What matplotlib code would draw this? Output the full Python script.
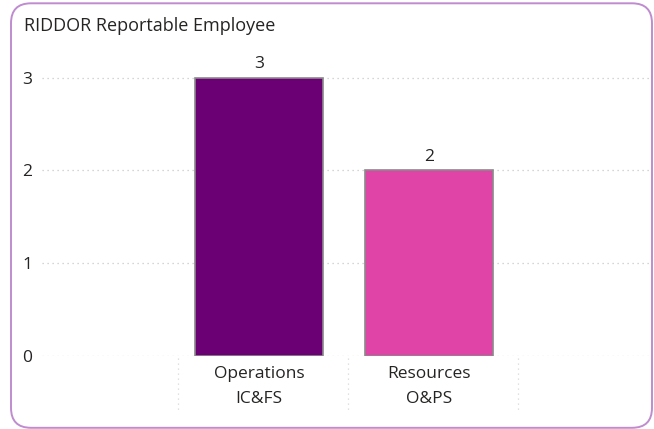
import matplotlib
matplotlib.use("Agg")
import matplotlib.pyplot as plt
from matplotlib.patches import FancyBboxPatch
from matplotlib.transforms import blended_transform_factory

categories = ["Operations\nIC&FS", "Resources\nO&PS"]
values = [3, 2]
colors = ["#6a0073", "#e044a7"]
yticks = [0, 1, 2, 3]
title = "RIDDOR Reportable Employee"

plt.rcParams['font.family'] = ['Open Sans', 'DejaVu Sans']
TXT = "#252423"

W, H = 654, 429
fig = plt.figure(figsize=(W/100, H/100), dpi=100)

# rounded border (inches)
border = FancyBboxPatch((0.11, 0.012), 6.41, 4.245,
                        boxstyle="round,pad=0,rounding_size=0.2",
                        transform=fig.dpi_scale_trans, fill=False,
                        edgecolor="#bf8ccf", linewidth=1.4)
fig.patches.append(border)

# axes placement in pixels
ax_left, ax_right = 42, 650
y0_px, ytop_px = 356, 54
unit_px = (356 - 77.5) / 3.0
ytop = (y0_px - ytop_px) / unit_px
ax = fig.add_axes([ax_left/W, (H-y0_px)/H, (ax_right-ax_left)/W, (y0_px-ytop_px)/H])

xs = list(range(len(categories)))
band_px = 170.0
c0 = 259.0
ax.set_xlim((ax_left-c0)/band_px, (ax_right-c0)/band_px)
ax.set_ylim(0, ytop)

ax.bar(xs, values, width=0.753, color=colors, edgecolor="#8a8a8a", linewidth=1.2, zorder=3)
for x, v in zip(xs, values):
    ax.text(x, v + 0.06, str(v), ha="center", va="bottom", fontsize=12.5, color=TXT)

ax.set_yticks(yticks)
ax.set_yticklabels([str(t) for t in yticks], fontsize=12.5, color=TXT)
ax.yaxis.grid(True, linestyle=(0, (1, 3)), color="#c8c8c8", linewidth=0.9, zorder=0)
ax.tick_params(axis="y", length=0, pad=7)
ax.set_xticks(xs)
ax.set_xticklabels(categories, fontsize=12.5, color=TXT, linespacing=1.75)
ax.tick_params(axis="x", length=0, pad=7)
for s in ax.spines.values():
    s.set_visible(False)

# vertical dotted separators below axis
tr = blended_transform_factory(ax.transData, ax.transAxes)
h_ax = y0_px - ytop_px
for b in [-0.5, 0.5, 1.5]:
    xb = b + 4/band_px
    ax.plot([xb, xb], [-2/h_ax, -57/h_ax], transform=tr, clip_on=False,
            linestyle=(0, (1, 3)), color="#d8d8d8", linewidth=0.9)

fig.text(24/W, 1-26/H, title, fontsize=13, color=TXT, va="center", ha="left")

fig.savefig("out.png", dpi=100)
